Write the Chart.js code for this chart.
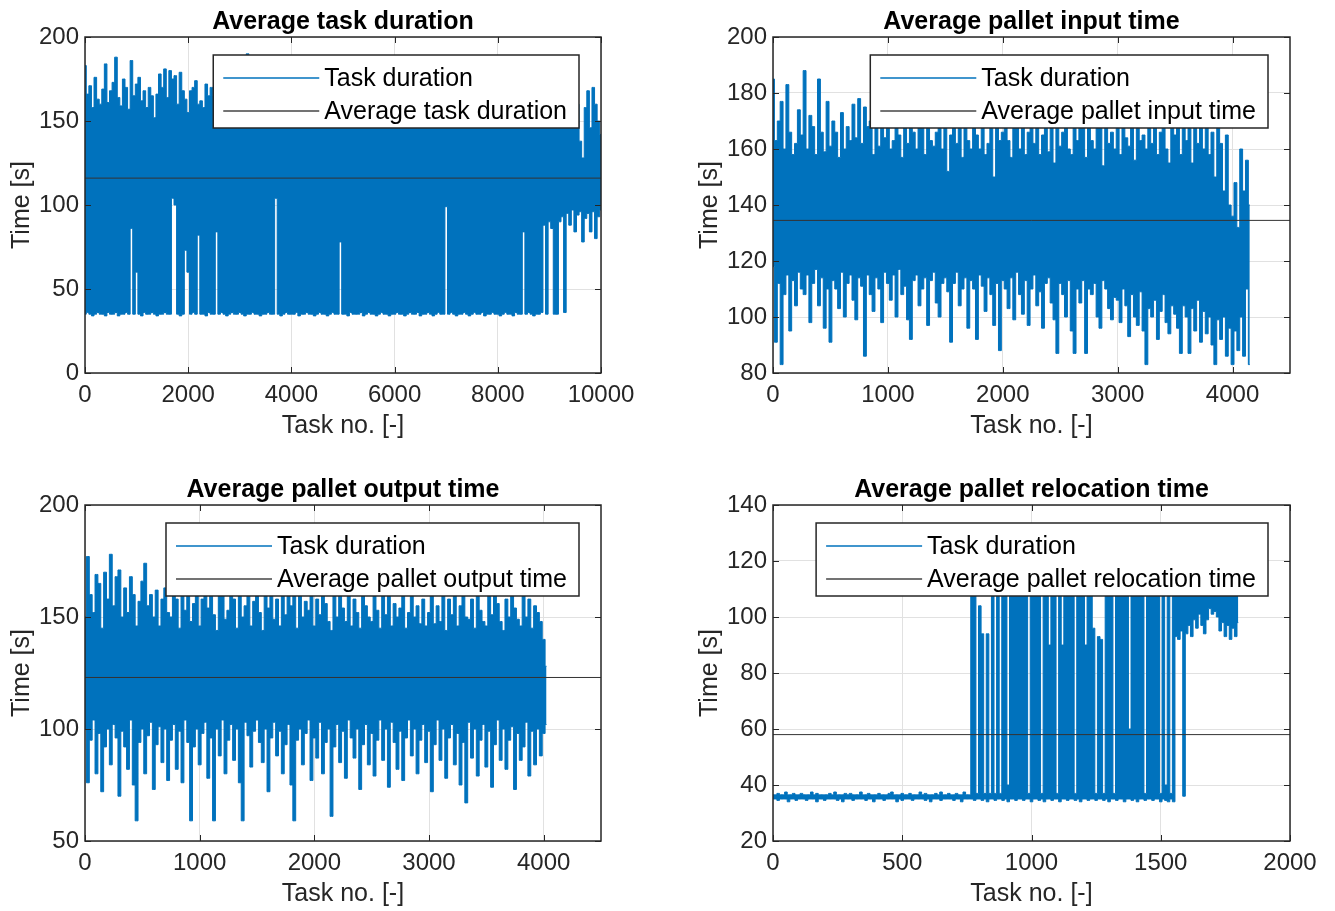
<!DOCTYPE html>
<html>
<head>
<meta charset="utf-8">
<title>Task duration</title>
<script src="https://cdn.jsdelivr.net/npm/chart.js@4.4.1/dist/chart.umd.min.js"></script>
<style>
  html, body { margin: 0; padding: 0; background: #fff; }
  body { width: 1335px; height: 911px; position: relative; overflow: hidden; }
  canvas { position: absolute; }
</style>
</head>
<body>
<canvas id="tl" width="667" height="456" style="left:0;top:0"></canvas>
<canvas id="tr" width="667" height="456" style="left:668px;top:0"></canvas>
<canvas id="bl" width="667" height="455" style="left:0;top:456px"></canvas>
<canvas id="br" width="667" height="455" style="left:668px;top:456px"></canvas>
<script>
// Task samples are taken every <step> tasks; each sample keeps the upper
// and lower value of the task duration.

//****************  AVERAGE TASK DURATION  *****************
const tlStep = 50;
const tlMean = 116;
const tlXTicks = [0, 2000, 4000, 6000, 8000, 10000];
const tlYTicks = [0, 50, 100, 150, 200];
const tlHigh = [
  183,166,171,158,176,163,160,169,184,161,
  168,173,188,164,159,175,170,157,186,165,
  172,176,162,168,158,170,165,152,166,178,
  170,181,164,180,175,177,160,179,168,163,
  155,168,170,174,160,162,158,172,165,170,
  165,158,170,162,168,160,172,158,166,163,
  170,160,168,190,162,170,158,166,160,172,
  168,160,172,156,166,162,175,158,170,160,
  164,172,157,168,160,174,162,166,158,170,
  162,168,156,174,160,166,158,172,163,168,
  158,170,162,166,175,160,168,156,172,164,
  166,158,172,160,168,162,176,157,166,160,
  170,162,165,158,174,160,168,163,170,156,
  164,172,160,168,157,175,162,166,160,170,
  158,168,164,174,160,166,156,172,162,168,
  160,175,158,166,170,162,168,157,172,164,
  166,160,174,158,168,162,170,156,166,172,
  162,168,158,175,160,166,164,170,157,168,
  160,172,162,166,158,170,164,168,160,172,
  165,160,138,128,158,168,146,170,160,150,142
];
const tlLow = [
  35,36,35,34,35,36,35,35,34,36,
  35,35,36,34,35,35,36,35,86,35,
  60,35,34,36,35,35,36,35,34,35,
  35,36,35,35,104,100,35,34,35,73,
  60,35,36,35,82,35,35,34,36,35,
  35,84,35,36,35,34,35,36,35,35,
  36,35,34,35,35,36,35,35,34,35,
  35,36,35,35,104,35,34,35,36,35,
  35,35,36,34,35,35,36,35,35,34,
  35,36,35,35,34,35,36,35,35,78,
  35,35,34,36,35,35,35,36,34,35,
  36,35,35,34,35,36,35,35,34,35,
  35,36,35,35,34,35,36,35,35,36,
  34,35,35,36,35,34,35,36,35,35,
  99,35,36,35,34,35,35,36,35,34,
  35,36,35,35,36,34,35,35,36,35,
  35,34,35,36,35,35,34,36,35,35,
  84,35,36,35,34,35,35,36,88,35,
  90,86,35,35,90,93,36,95,88,97,
  84,94,96,78,92,95,84,96,80,93,97
];

//****************  AVERAGE PALLET INPUT TIME  *****************
const trStep = 25;
const trMean = 134.5;
const trXTicks = [0, 1000, 2000, 3000, 4000];
const trYTicks = [80, 100, 120, 140, 160, 180, 200];
const trHigh = [
  185,163,170,177,160,183,166,158,162,174,
  165,188,160,172,168,158,185,166,159,177,
  161,170,166,157,173,160,168,163,176,164,
  178,162,175,168,170,158,168,161,172,164,
  168,160,163,172,165,157,175,162,170,166,
  160,174,168,158,178,163,161,166,172,160,
  170,152,165,176,162,168,157,174,163,160,
  172,165,160,178,158,162,168,150,175,163,
  166,170,163,157,176,168,160,172,158,166,
  174,162,168,158,165,176,159,170,155,172,
  161,166,174,160,158,170,163,168,176,157,
  170,163,160,172,168,154,175,162,166,160,
  172,158,168,164,161,176,156,170,163,165,
  160,174,162,170,158,166,172,160,155,176,
  165,168,158,175,163,170,155,174,162,168,
  160,172,158,166,150,170,162,145,165,140,
  136,148,132,160,145,156,140
];
const trLow = [
  118,91,112,83,108,115,95,113,104,116,
  110,108,115,98,112,117,104,114,96,110,
  91,113,110,103,116,100,112,115,106,99,
  114,111,86,115,108,102,114,110,98,116,
  112,106,115,100,117,108,111,99,92,113,
  115,104,110,114,97,113,116,105,100,112,
  114,109,91,112,116,104,110,114,96,113,
  110,92,115,111,102,114,108,97,112,88,
  113,110,103,114,99,116,108,101,113,97,
  110,115,104,109,96,112,114,105,99,87,
  112,108,100,113,95,87,110,105,113,87,
  110,108,112,100,96,113,110,103,99,107,
  106,98,110,104,93,108,100,97,109,95,
  83,103,100,106,92,102,108,98,94,104,
  101,96,87,104,100,87,103,95,106,91,
  102,94,100,90,83,99,92,100,86,96,
  83,95,88,100,86,110,83
];

//****************  AVERAGE PALLET OUTPUT TIME  *****************
const blStep = 25;
const blMean = 123;
const blXTicks = [0, 1000, 2000, 3000, 4000];
const blYTicks = [50, 100, 150, 200];
const blHigh = [
  150,177,160,152,169,165,145,170,158,178,
  155,168,171,150,163,152,168,160,146,157,
  166,174,155,160,150,162,146,158,163,152,
  150,168,158,145,165,153,170,148,156,162,
  146,158,165,154,168,151,144,160,166,149,
  153,165,158,145,170,150,155,164,146,157,
  162,152,144,166,154,168,149,158,146,165,
  151,166,155,160,145,165,150,157,153,164,
  146,158,151,165,156,148,144,166,150,162,
  154,148,165,146,158,152,145,160,155,150,
  148,162,153,145,160,151,166,146,156,150,
  154,160,145,152,164,150,155,147,158,146,
  152,160,147,155,148,166,144,158,151,162,
  146,155,162,150,149,158,145,164,153,148,
  146,160,151,165,156,148,144,158,150,162,
  154,149,146,160,150,158,145,155,152,148,
  140,128
];
const blLow = [
  100,76,95,104,80,98,72,92,100,84,
  102,96,70,99,92,82,104,75,59,94,
  100,80,97,103,73,93,101,85,100,77,
  95,102,82,99,76,104,94,59,92,100,
  84,98,103,78,96,59,100,88,104,80,
  95,102,86,100,76,59,103,97,83,99,
  104,94,85,100,72,96,103,88,99,80,
  93,102,75,59,95,100,84,98,104,77,
  96,87,103,80,94,100,61,92,102,85,
  99,78,104,96,87,100,73,93,102,84,
  98,79,95,104,86,100,74,103,94,82,
  99,77,96,104,88,100,80,95,102,85,
  99,72,93,104,86,100,78,96,102,84,
  98,75,94,67,103,87,100,79,95,102,
  83,99,74,93,104,86,100,82,95,101,
  73,98,86,92,103,79,99,84,100,88,
  98,102
];

//****************  AVERAGE PALLET RELOCATION TIME  *****************
const brStep = 10;
const brMean = 58;
const brXTicks = [0, 500, 1000, 1500, 2000];
const brYTicks = [20, 40, 60, 80, 100, 120, 140];
const brHigh = [
  36.5,36.5,37,36.5,36.5,37.5,36.5,36.5,37,36.5,
  36.5,37,36.5,36.5,36.5,37.5,36.5,37,36.5,36.5,
  36.5,36.5,37,36.5,37.5,36.5,36.5,36.5,37,36.5,
  37,36.5,36.5,36.5,37.5,36.5,36.5,37,36.5,36.5,
  36.5,37,36.5,36.5,36.5,37,37.5,36.5,36.5,36.5,
  37,36.5,36.5,37,36.5,36.5,36.5,37.5,36.5,37,
  36.5,36.5,36.5,37,36.5,37.5,36.5,36.5,37,36.5,
  36.5,37,36.5,36.5,37.5,36.5,36.5,
  110,110,37,104,94,37,94,37,110,37,
  110,37,110,110,40,110,110,110,110,110,
  110,110,37,110,110,110,110,37,110,110,
  90,110,110,37,110,90,110,110,110,110,
  37,110,110,110,90,110,110,96,37,93,
  92,37,110,110,110,37,110,110,110,110,
  110,60,110,110,110,110,110,37,110,110,
  110,110,110,37,110,40,110,37,110,
  110,110,110,110,110,110,110,110,110,110,
  110,110,110,110,110,110,110,110,110,110,
  110,110,110,110,110
];
const brLow = [
  35,35,34.5,35,35,35,34,35,35,34.5,
  35,35,35,34.5,35,35,35,34,35,35,
  34.5,35,35,35,35,34.5,35,34,35,35,
  35,34.5,35,35,35,35,34.5,35,35,34,
  35,35,35,34.5,35,35,35,35,34,35,
  34.5,35,35,35,34.5,35,35,35,35,34.5,
  35,34,35,35,35,34.5,35,35,35,35,
  34.5,35,35,34,35,35,35,
  35,34.5,35,35,34.5,35,34,35,35,34.5,
  35,35,34.5,35,34,35,35,34.5,35,35,
  34.5,35,35,34,35,35,34.5,35,34,35,
  35,34.5,35,35,34,35,35,34.5,35,35,
  34.5,35,34,35,35,34.5,35,35,34.5,35,
  35,34.5,35,34,35,35,34.5,35,35,34,
  35,35,34.5,35,34,35,35,34.5,35,35,
  34.5,35,35,34,35,34.5,34,35,34,
  93,92,95,36,94,97,93,99,96,101,
  97,94,99,103,101,102,100,95,98,93,
  97,92,96,93,98
];

const blue = '#0072BD';
const meanColor = '#333333';
const axisColor = '#262626';
const gridColor = '#e1e1e1';
const fontFamily = '"Liberation Sans", Arial, Helvetica, sans-serif';

// MATLAB-like axes: box, inner ticks, legend box and bold title
const matlabAxes = {
  id: 'matlabAxes',
  afterDatasetsDraw(chart, args, opts) {
    const {ctx, chartArea: a, scales: {x, y}} = chart;
    ctx.save();
    ctx.strokeStyle = axisColor;
    ctx.lineWidth = 1;
    ctx.beginPath();
    x.ticks.forEach(t => {
      const px = Math.round(x.getPixelForValue(t.value)) + 0.5;
      ctx.moveTo(px, a.bottom); ctx.lineTo(px, a.bottom - 6);
      ctx.moveTo(px, a.top); ctx.lineTo(px, a.top + 6);
    });
    y.ticks.forEach(t => {
      const py = Math.round(y.getPixelForValue(t.value)) + 0.5;
      ctx.moveTo(a.left, py); ctx.lineTo(a.left + 6, py);
      ctx.moveTo(a.right, py); ctx.lineTo(a.right - 6, py);
    });
    ctx.stroke();
    ctx.lineWidth = 1.5;
    ctx.strokeRect(a.left, a.top, a.right - a.left, a.bottom - a.top);

    // legend
    ctx.font = '25px ' + fontFamily;
    const textW = Math.max(...opts.items.map(it => ctx.measureText(it.text).width));
    const w = 111 + textW + 12;
    const h = 73;
    const left = a.right - 22 - w;
    const top = a.top + 18;
    ctx.fillStyle = '#fff';
    ctx.fillRect(left, top, w, h);
    ctx.lineWidth = 1.5;
    ctx.strokeStyle = axisColor;
    ctx.strokeRect(left, top, w, h);
    ctx.textBaseline = 'middle';
    ctx.textAlign = 'left';
    opts.items.forEach((it, i) => {
      const ry = top + 23 + i * 33;
      ctx.strokeStyle = it.color;
      ctx.lineWidth = 1.5;
      ctx.beginPath();
      ctx.moveTo(left + 10, ry);
      ctx.lineTo(left + 106, ry);
      ctx.stroke();
      ctx.fillStyle = '#000';
      ctx.fillText(it.text, left + 111, ry + 1);
    });
    ctx.restore();
  },
  afterDraw(chart, args, opts) {
    const {ctx, chartArea: a} = chart;
    ctx.save();
    ctx.font = 'bold 25px ' + fontFamily;
    ctx.fillStyle = '#000';
    ctx.textAlign = 'center';
    ctx.textBaseline = 'middle';
    ctx.fillText(opts.title, (a.left + a.right) / 2, a.top - 15);
    ctx.restore();
  }
};

function toPoints(values, step) {
  return values.map((v, i) => ({x: i * step, y: v}));
}

function makePanel(id, p) {
  const tickFont = {family: fontFamily, size: 24};
  const labelFont = {family: fontFamily, size: 25};
  return new Chart(document.getElementById(id), {
    type: 'line',
    data: {
      datasets: [
        {
          label: p.meanLabel,
          data: [{x: 0, y: p.mean}, {x: p.xMax, y: p.mean}],
          borderColor: meanColor,
          borderWidth: 1,
          pointRadius: 0,
          fill: false
        },
        {
          label: 'Task duration (lower)',
          data: toPoints(p.low, p.step),
          borderColor: blue,
          borderWidth: 1,
          pointRadius: 0,
          stepped: 'middle',
          fill: false
        },
        {
          label: 'Task duration',
          data: toPoints(p.high, p.step),
          borderColor: blue,
          backgroundColor: blue,
          borderWidth: 1,
          pointRadius: 0,
          stepped: 'middle',
          fill: '-1'
        }
      ]
    },
    options: {
      responsive: false,
      animation: false,
      events: [],
      layout: {autoPadding: false, padding: p.padding},
      plugins: {
        legend: {display: false},
        tooltip: {enabled: false},
        matlabAxes: {
          title: p.title,
          items: [
            {text: 'Task duration', color: blue},
            {text: p.meanLabel, color: '#444444'}
          ]
        }
      },
      scales: {
        x: {
          type: 'linear',
          min: 0,
          max: p.xMax,
          afterFit: s => { s.height = 70; },
          afterBuildTicks: s => { s.ticks = p.xTicks.map(v => ({value: v})); },
          grid: {color: gridColor, drawTicks: false},
          border: {display: false},
          ticks: {color: axisColor, font: tickFont, padding: 8, maxRotation: 0, autoSkip: false, callback: v => String(v)},
          title: {display: true, text: 'Task no. [-]', color: axisColor, font: labelFont, padding: {top: 0, bottom: 2}}
        },
        y: {
          min: p.yTicks[0],
          max: p.yTicks[p.yTicks.length - 1],
          afterFit: s => { s.width = 85; },
          afterBuildTicks: s => { s.ticks = p.yTicks.map(v => ({value: v})); },
          grid: {color: gridColor, drawTicks: false},
          border: {display: false},
          ticks: {color: axisColor, font: tickFont, padding: 6, autoSkip: false, callback: v => String(v)},
          title: {display: true, text: 'Time [s]', color: axisColor, font: labelFont, padding: {top: 7, bottom: 0}}
        }
      }
    },
    plugins: [matlabAxes]
  });
}

makePanel('tl', {
  title: 'Average task duration', meanLabel: 'Average task duration',
  step: tlStep, high: tlHigh, low: tlLow, mean: tlMean,
  xMax: 10000, xTicks: tlXTicks, yTicks: tlYTicks,
  padding: {left: 0, top: 37, right: 66, bottom: 13}
});
makePanel('tr', {
  title: 'Average pallet input time', meanLabel: 'Average pallet input time',
  step: trStep, high: trHigh, low: trLow, mean: trMean,
  xMax: 4500, xTicks: trXTicks, yTicks: trYTicks,
  padding: {left: 20, top: 37, right: 45, bottom: 13}
});
makePanel('bl', {
  title: 'Average pallet output time', meanLabel: 'Average pallet output time',
  step: blStep, high: blHigh, low: blLow, mean: blMean,
  xMax: 4500, xTicks: blXTicks, yTicks: blYTicks,
  padding: {left: 0, top: 49, right: 66, bottom: 0}
});
makePanel('br', {
  title: 'Average pallet relocation time', meanLabel: 'Average pallet relocation time',
  step: brStep, high: brHigh, low: brLow, mean: brMean,
  xMax: 2000, xTicks: brXTicks, yTicks: brYTicks,
  padding: {left: 20, top: 49, right: 45, bottom: 0}
});
</script>
</body>
</html>
